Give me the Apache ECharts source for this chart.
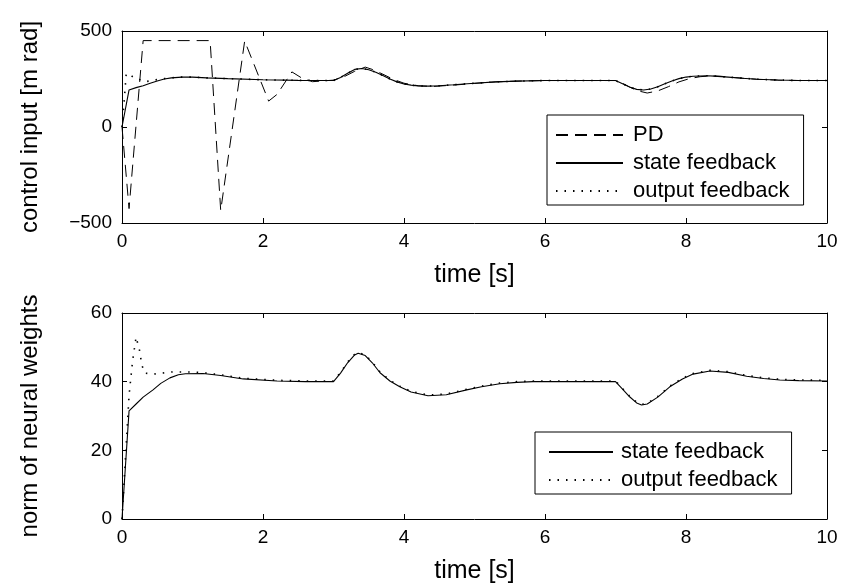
<!DOCTYPE html>
<html><head><meta charset="utf-8">
<script src="https://cdn.jsdelivr.net/npm/echarts@6/dist/echarts.min.js"></script>
<style>html,body{margin:0;padding:0;background:#fff}#c{width:842px;height:588px}</style>
</head><body><div id="c"></div>
<script>
// ---- data ----
const xTicks = [0, 2, 4, 6, 8, 10];
const uTicks = [-500, 0, 500];
const wTicks = [0, 20, 40, 60];

// top panel: control input [m rad]
const tPD = [0, 0.1, 0.3, 1.25, 1.4, 1.74, 2.08, 2.2, 2.41, 2.55, 2.7, 3.0, 3.15, 3.3, 3.45, 3.55, 3.7, 3.85, 4.0, 4.2, 4.4, 4.7, 5.0, 5.3, 5.6, 6.0, 7.0, 7.1, 7.2, 7.3, 7.45, 7.6, 7.75, 7.9, 8.05, 8.2, 8.35, 8.5, 8.7, 9.0, 9.3, 9.6, 10];
const uPD = [0, -425, 450, 450, -435, 448, 135, 170, 287, 255, 236, 244, 262, 290, 312, 300, 275, 248, 228, 215, 211, 218, 227, 235, 239, 242, 242, 228, 208, 190, 177, 188, 210, 235, 252, 262, 266, 264, 257, 249, 244, 242, 242];
const tStateU = [0, 0.1, 0.2, 0.3, 0.4, 0.5, 0.6, 0.7, 0.85, 1.0, 1.2, 1.5, 2.0, 2.5, 3.0, 3.1, 3.2, 3.3, 3.4, 3.5, 3.6, 3.7, 3.8, 3.9, 4.0, 4.1, 4.2, 4.35, 4.5, 4.7, 5.0, 5.3, 5.6, 6.0, 7.0, 7.1, 7.2, 7.3, 7.4, 7.5, 7.6, 7.7, 7.8, 7.9, 8.0, 8.1, 8.2, 8.3, 8.4, 8.6, 8.8, 9.0, 9.3, 9.6, 10];
const uState = [0, 193, 205, 215, 228, 240, 250, 256, 260, 260, 256, 252, 246, 243, 242, 258, 280, 300, 305, 298, 285, 268, 250, 235, 224, 218, 214, 213, 215, 220, 228, 235, 239, 242, 242, 225, 208, 196, 193, 198, 210, 225, 240, 252, 260, 264, 266, 267, 265, 260, 254, 249, 245, 242, 242];
const tOutU = [0, 0.03, 0.06, 0.1, 0.15, 0.2, 0.28, 0.33, 0.4, 0.5, 0.6, 0.7, 0.85, 1.0, 1.2, 1.5, 2.0, 2.5, 3.0, 3.1, 3.2, 3.3, 3.4, 3.5, 3.6, 3.7, 3.8, 3.9, 4.0, 4.1, 4.2, 4.35, 4.5, 4.7, 5.0, 5.3, 5.6, 6.0, 7.0, 7.1, 7.2, 7.3, 7.4, 7.5, 7.6, 7.7, 7.8, 7.9, 8.0, 8.1, 8.2, 8.3, 8.4, 8.6, 8.8, 9.0, 9.3, 9.6, 10];
const uOut = [0, 130, 278, 275, 262, 250, 245, 236, 240, 247, 252, 256, 260, 260, 256, 252, 246, 243, 242, 258, 280, 300, 305, 298, 285, 268, 250, 235, 224, 218, 214, 213, 215, 220, 228, 235, 239, 242, 242, 225, 208, 196, 193, 198, 210, 225, 240, 252, 260, 264, 266, 267, 265, 260, 254, 249, 245, 242, 242];

// bottom panel: norm of neural weights
const tStateW = [0, 0.1, 0.2, 0.3, 0.44, 0.55, 0.68, 0.8, 0.9, 1.15, 1.4, 1.72, 2.2, 2.6, 3.0, 3.1, 3.2, 3.3, 3.35, 3.45, 3.55, 3.66, 3.8, 3.94, 4.1, 4.34, 4.6, 4.89, 5.1, 5.36, 5.6, 5.83, 6.2, 7.0, 7.1, 7.2, 7.3, 7.37, 7.45, 7.6, 7.77, 7.95, 8.1, 8.34, 8.6, 8.86, 9.1, 9.33, 9.6, 10];
const wState = [0, 31.5, 33.5, 35.5, 37.6, 39.5, 41.1, 42, 42.3, 42.4, 41.8, 40.8, 40.2, 40, 40, 42.5, 45.5, 47.8, 48.3, 47.6, 45.5, 42.6, 40.2, 38.5, 37, 35.9, 36.2, 37.6, 38.5, 39.4, 39.8, 40, 40, 40, 37.8, 35.6, 33.8, 33.2, 33.5, 35.5, 38.5, 40.8, 42.2, 43.1, 42.7, 41.6, 40.9, 40.5, 40.3, 40.2];
const tOutW = [0, 0.05, 0.1, 0.15, 0.2, 0.22, 0.25, 0.28, 0.32, 0.45, 0.7, 1.0, 1.15, 1.4, 1.72, 2.2, 2.6, 3.0, 3.1, 3.2, 3.3, 3.35, 3.45, 3.55, 3.66, 3.8, 3.94, 4.1, 4.34, 4.6, 4.89, 5.1, 5.36, 5.6, 5.83, 6.2, 7.0, 7.1, 7.2, 7.3, 7.37, 7.45, 7.6, 7.77, 7.95, 8.1, 8.34, 8.6, 8.86, 9.1, 9.33, 9.6, 10];
const wOut = [0, 18, 36, 46, 53, 52.5, 49, 45, 42.5, 42.2, 42.8, 42.8, 42.6, 42, 41, 40.4, 40.2, 40.2, 42.7, 45.7, 48, 48.5, 47.8, 45.7, 42.8, 40.4, 38.7, 37.2, 36.1, 36.4, 37.8, 38.7, 39.6, 40, 40.2, 40.2, 40.2, 38, 35.8, 34, 33.4, 33.7, 35.7, 38.7, 41, 42.4, 43.3, 42.9, 41.8, 41.1, 40.7, 40.5, 40.4];

// ---- chart ----
const zip = (t, v) => t.map((x, i) => [x, v[i]]);
const FONT = 'Liberation Sans';
const minus = v => String(v).replace('-', '\u2212');

function bottomX(grid) {
  return {
    type: 'value', gridIndex: grid, min: 0, max: 10, interval: 2, position: 'bottom',
    name: 'time [s]', nameLocation: 'middle', nameGap: 40,
    nameTextStyle: { fontFamily: FONT, fontSize: 25, color: '#000' },
    axisLine: { show: true, onZero: false, lineStyle: { color: '#000', width: 1 } },
    axisTick: { show: true, inside: true, length: 5, lineStyle: { color: '#000' } },
    axisLabel: { show: true, margin: 9, fontFamily: FONT, fontSize: 19, color: '#000' },
    splitLine: { show: false }
  };
}
function topX(grid) {
  return {
    type: 'value', gridIndex: grid, min: 0, max: 10, interval: 2, position: 'top',
    axisLine: { show: true, onZero: false, lineStyle: { color: '#000', width: 1 } },
    axisTick: { show: true, inside: true, length: 5, lineStyle: { color: '#000' } },
    axisLabel: { show: false }, splitLine: { show: false }
  };
}
function leftY(grid, min, max, interval, name) {
  return {
    type: 'value', gridIndex: grid, min: min, max: max, interval: interval, position: 'left',
    name: name, nameLocation: 'middle', nameGap: 80,
    nameTextStyle: { fontFamily: FONT, fontSize: 24, color: '#000' },
    axisLine: { show: true, onZero: false, lineStyle: { color: '#000', width: 1 } },
    axisTick: { show: true, inside: true, length: 5, lineStyle: { color: '#000' } },
    axisLabel: { show: true, margin: 10, fontFamily: FONT, fontSize: 19, color: '#000', formatter: minus },
    splitLine: { show: false }
  };
}
function rightY(grid, min, max, interval) {
  return {
    type: 'value', gridIndex: grid, min: min, max: max, interval: interval, position: 'right',
    axisLine: { show: true, onZero: false, lineStyle: { color: '#000', width: 1 } },
    axisTick: { show: true, inside: true, length: 5, lineStyle: { color: '#000' } },
    axisLabel: { show: false }, splitLine: { show: false }
  };
}
function line(name, xi, yi, data, type, width) {
  return {
    name: name, type: 'line', xAxisIndex: xi, yAxisIndex: yi, data: data,
    symbol: 'none', showSymbol: false, smooth: false, animation: false,
    lineStyle: { color: '#000', width: width, type: type },
    itemStyle: { color: '#000' }, emphasis: { disabled: true }
  };
}
const legendBase = {
  orient: 'vertical', backgroundColor: '#fff', borderColor: '#000', borderWidth: 1, borderRadius: 0,
  itemHeight: 14, itemGap: 6, selectedMode: false,
  itemStyle: { opacity: 0, borderWidth: 0 }
};

const chart = echarts.init(document.getElementById('c'), null, { renderer: 'canvas' });
chart.setOption({
  animation: false,
  backgroundColor: '#fff',
  grid: [
    { left: 122, top: 31, width: 705, height: 192 },
    { left: 122, top: 313, width: 705, height: 206 }
  ],
  xAxis: [bottomX(0), topX(0), bottomX(1), topX(1)],
  yAxis: [
    leftY(0, -500, 500, 500, 'control input [m rad]'), rightY(0, -500, 500, 500),
    leftY(1, 0, 60, 20, 'norm of neural weights'), rightY(1, 0, 60, 20)
  ],
  legend: [
    Object.assign({}, legendBase, { left: 547, top: 115, padding: [9, 14, 3, 8], itemWidth: 67,
      textStyle: { fontFamily: FONT, fontSize: 22, color: '#000', padding: [0, 0, 0, 5] },
      data: ['PD', 'state feedback', 'output feedback'] }),
    Object.assign({}, legendBase, { left: 535, top: 432, padding: [9, 14, 3, 13], itemWidth: 64,
      textStyle: { fontFamily: FONT, fontSize: 22, color: '#000', padding: [0, 0, 0, 3] },
      data: ['state feedback', 'output feedback'] })
  ],
  series: [
    line('PD', 0, 0, zip(tPD, uPD), [12, 7], 1),
    line('state feedback', 0, 0, zip(tStateU, uState), 'solid', 1.1),
    line('output feedback', 0, 0, zip(tOutU, uOut), [1.5, 7], 1.6),
    line('state feedback', 2, 2, zip(tStateW, wState), 'solid', 1.1),
    line('output feedback', 2, 2, zip(tOutW, wOut), [1.5, 7], 1.6)
  ]
});
</script>
</body></html>
